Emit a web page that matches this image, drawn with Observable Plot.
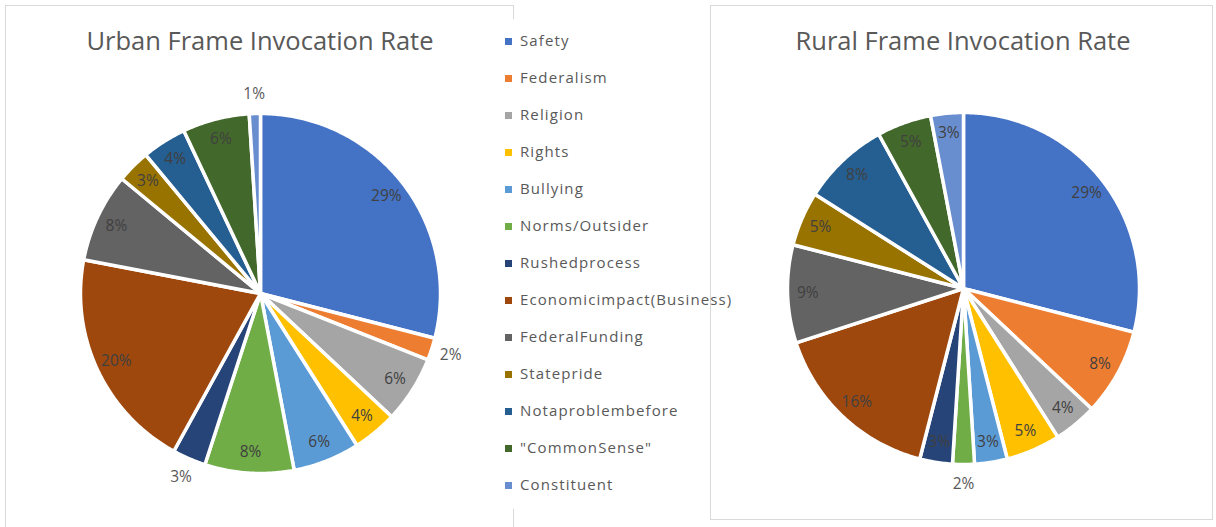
<!DOCTYPE html>
<html>
<head>
<meta charset="utf-8">
<script src="https://cdn.jsdelivr.net/npm/d3@7"></script>
<script src="https://cdn.jsdelivr.net/npm/@observablehq/plot@0.6"></script>
<style>
  html, body { margin: 0; padding: 0; background: #fff; }
  #root { position: relative; width: 1216px; height: 527px; overflow: hidden; background: #fff; font-family: "Open Sans", sans-serif; }
  .abs { position: absolute; }
  .frame { position: absolute; box-sizing: border-box; border: 1px solid #d9d9d9; }
  .title { position: absolute; width: 460px; text-align: center; color: #595959; font-size: 25.5px; line-height: 30px; white-space: nowrap; }
  .leg { position: absolute; left: 505px; color: #595959; font-size: 15px; letter-spacing: 1.1px; white-space: nowrap; }
  .leg i { display: inline-block; width: 7px; height: 7px; margin-right: 8px; vertical-align: 1px; }
</style>
</head>
<body>
<div id="root">
  <div class="frame" style="left:5px;top:5px;width:509px;height:530px;"></div>
  <div class="frame" style="left:710px;top:5px;width:503px;height:515px;"></div>
  <div class="abs" style="left:500px;top:19px;width:209px;height:490px;background:#fff;"></div>
  <div class="abs" style="left:520px;top:0px;width:185px;height:527px;background:#fff;"></div>
  <div class="title" id="t0" style="left:30px;top:25px;"></div>
  <div class="title" id="t1" style="left:733px;top:25px;"></div>
  <div class="abs" id="pie0" style="left:5px;top:60px;"></div>
  <div class="abs" id="pie1" style="left:712px;top:60px;"></div>
  <div id="legend"></div>
</div>
<script>
const categories = ["Safety","Federalism","Religion","Rights","Bullying","Norms/Outsider","Rushedprocess","Economicimpact(Business)","FederalFunding","Statepride","Notaproblembefore","\"CommonSense\"","Constituent"];
const colors = ["#4472C4","#ED7D31","#A5A5A5","#FFC000","#5B9BD5","#70AD47","#264478","#9E480E","#636363","#997300","#255E91","#43682B","#698ED0"];
const urbanValues = [29,2,6,4,6,8,3,20,8,3,4,6,1];
const ruralValues = [29,8,4,5,3,2,3,16,9,5,8,5,3];
const urbanOutside = ["Federalism","Rushedprocess","Constituent"];
const ruralOutside = ["Norms/Outsider"];
const titles = ["Urban Frame Invocation Rate","Rural Frame Invocation Rate"];

function pieParts(values, outside, R) {
  const arcs = d3.pie().sort(null).value(d => d)(values);
  const polys = [], labels = [];
  arcs.forEach((p, i) => {
    const cat = categories[i];
    const n = Math.max(2, Math.ceil((p.endAngle - p.startAngle) / 0.01));
    polys.push({k: i, cat, x: 0, y: 0});
    for (let j = 0; j <= n; j++) {
      const a = p.startAngle + (p.endAngle - p.startAngle) * j / n;
      polys.push({k: i, cat, x: R * Math.sin(a), y: R * Math.cos(a)});
    }
    polys.push({k: i, cat, x: 0, y: 0});
    const mid = (p.startAngle + p.endAngle) / 2;
    const out = outside.includes(cat);
    const r = out ? R + 20 : R * 0.885;
    labels.push({x: r * Math.sin(mid), y: r * Math.cos(mid), text: values[i] + "%", out});
  });
  return {polys, labels};
}

function pie(values, outside, L) {
  const {polys, labels} = pieParts(values, outside, L.R);
  return Plot.plot({
    width: L.w, height: L.h,
    margin: 0,
    style: {fontFamily: "Open Sans, sans-serif", fontSize: "15.5px", background: "transparent"},
    x: {domain: [-L.cx, L.w - L.cx], axis: null},
    y: {domain: [-(L.h - L.cy), L.cy], axis: null},
    color: {domain: categories, range: colors},
    marks: [
      Plot.line(polys, {x: "x", y: "y", z: "k", fill: "cat", stroke: "white", strokeWidth: 3.5, strokeLinejoin: "round", curve: "linear"}),
      Plot.text(labels, {x: "x", y: "y", text: "text", fill: d => d.out ? "#595959" : "#404040", fontSize: 15.5})
    ]
  });
}

document.getElementById("t0").textContent = titles[0];
document.getElementById("t1").textContent = titles[1];
document.getElementById("pie0").append(pie(urbanValues, urbanOutside, {w: 508, h: 462, cx: 255, cy: 233, R: 180}));
document.getElementById("pie1").append(pie(ruralValues, ruralOutside, {w: 498, h: 455, cx: 251, cy: 228, R: 176}));

const legend = document.getElementById("legend");
categories.forEach((c, i) => {
  const d = document.createElement("div");
  d.className = "leg";
  d.style.top = (30 + i * 37) + "px";
  const sw = document.createElement("i");
  sw.style.background = colors[i];
  d.append(sw, document.createTextNode(c));
  legend.append(d);
});
</script>
</body>
</html>
